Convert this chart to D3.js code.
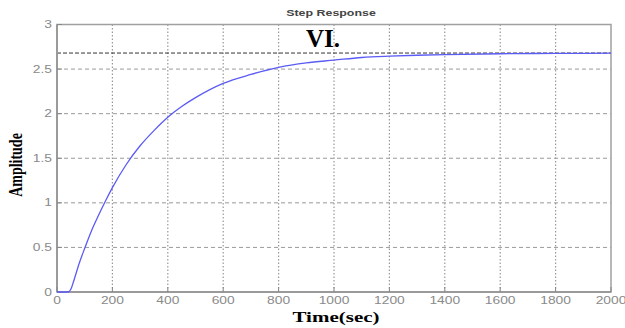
<!DOCTYPE html>
<html><head><meta charset="utf-8">
<script src="https://cdn.jsdelivr.net/npm/d3@7"></script>
<style>body{margin:0;background:#fff}svg{display:block}</style>
</head><body>
<script>
const timeSec = [0, 40, 50, 60, 80, 100, 125, 150, 175, 200, 250, 300, 350, 400, 450, 500, 600, 700, 800, 900, 1000, 1100, 1200, 1300, 1400, 1600, 1800, 2000];
const amplitude = [0, 0, 0.03, 0.12, 0.32, 0.49, 0.69, 0.86, 1.02, 1.17, 1.43, 1.64, 1.81, 1.96, 2.08, 2.18, 2.34, 2.44, 2.52, 2.57, 2.60, 2.63, 2.645, 2.655, 2.662, 2.672, 2.676, 2.678];
const finalValue = [2.68];
const xTicks = [0, 200, 400, 600, 800, 1000, 1200, 1400, 1600, 1800, 2000];
const yTicks = [0, 0.5, 1, 1.5, 2, 2.5, 3];
const yTickLabels = ["0", "0.5", "1", "1.5", "2", "2.5", "3"];

const W = 625, H = 328;
const L = 57, R = 611, T = 24.5, B = 292;
const sx = 1.38;
const svg = d3.select("body").append("svg").attr("width", W).attr("height", H);
const x = d3.scaleLinear().domain([0, 2000]).range([L, R]);
const y = d3.scaleLinear().domain([0, 3]).range([B, T]);

// grid
svg.append("g").selectAll("line").data(yTicks.slice(1, -1)).join("line")
  .attr("x1", L).attr("x2", R).attr("y1", d => y(d)).attr("y2", d => y(d))
  .attr("stroke", "#999").attr("stroke-width", 1).attr("stroke-dasharray", "4,3");
svg.append("g").selectAll("line").data(xTicks.slice(1, -1)).join("line")
  .attr("x1", d => x(d)).attr("x2", d => x(d)).attr("y1", T).attr("y2", B)
  .attr("stroke", "#999").attr("stroke-width", 1.2).attr("stroke-dasharray", "1.5,2");

// final value dashed line
svg.append("line").attr("x1", L).attr("x2", R)
  .attr("y1", y(finalValue[0])).attr("y2", y(finalValue[0]))
  .attr("stroke", "#333").attr("stroke-width", 1).attr("stroke-dasharray", "4,2");

// frame
svg.append("rect").attr("x", L).attr("y", T).attr("width", R - L).attr("height", B - T)
  .attr("fill", "none").attr("stroke", "#a0a0a0").attr("stroke-width", 1.5);
svg.append("line").attr("x1", L).attr("x2", L).attr("y1", T).attr("y2", B)
  .attr("stroke", "#9a9a9a").attr("stroke-width", 2);
svg.append("line").attr("x1", L).attr("x2", R).attr("y1", B).attr("y2", B)
  .attr("stroke", "#9a9a9a").attr("stroke-width", 2);

// tick marks
svg.append("g").selectAll("line").data(xTicks).join("line")
  .attr("x1", d => x(d)).attr("x2", d => x(d)).attr("y1", B).attr("y2", B - 5)
  .attr("stroke", "#888");
svg.append("g").selectAll("line").data(yTicks).join("line")
  .attr("x1", L).attr("x2", L + 5).attr("y1", d => y(d)).attr("y2", d => y(d))
  .attr("stroke", "#888");

// curve
const line = d3.line().x((d, i) => x(timeSec[i])).y(d => y(d)).curve(d3.curveMonotoneX);
svg.append("path").datum(amplitude).attr("d", line)
  .attr("fill", "none").attr("stroke", "#5b5bf5").attr("stroke-width", 1.3);

// tick labels
svg.append("g").selectAll("text").data(xTicks).join("text")
  .attr("transform", d => `translate(${x(d)},304) scale(${sx},1)`)
  .attr("text-anchor", "middle").attr("font-family", "Liberation Sans, Arial, sans-serif")
  .attr("font-size", 10).attr("fill", "#8a8a8a").text(d => d);
svg.append("g").selectAll("text").data(yTicks).join("text")
  .attr("transform", d => `translate(52,${y(d) + 3.5}) scale(${sx},1)`)
  .attr("text-anchor", "end").attr("font-family", "Liberation Sans, Arial, sans-serif")
  .attr("font-size", 10).attr("fill", "#8a8a8a").text((d, i) => yTickLabels[i]);

// title
svg.append("text").attr("transform", `translate(331,15.5) scale(${sx},1)`)
  .attr("text-anchor", "middle").attr("font-family", "Liberation Sans, Arial, sans-serif")
  .attr("font-weight", "bold").attr("font-size", 9).attr("fill", "#444").text("Step Response");

// VI.
svg.append("text").attr("x", 306).attr("y", 47)
  .attr("font-family", "Liberation Serif, Times New Roman, serif")
  .attr("font-weight", "bold").attr("font-size", 25).attr("fill", "#000").text("VI.");

// axis labels
svg.append("text").attr("transform", `translate(336,322) scale(1.4,1)`)
  .attr("text-anchor", "middle").attr("font-family", "Liberation Serif, Times New Roman, serif")
  .attr("font-weight", "bold").attr("font-size", 15).attr("fill", "#000").text("Time(sec)");
svg.append("text").attr("transform", `translate(22,165) rotate(-90) scale(1,1.3)`)
  .attr("text-anchor", "middle").attr("font-family", "Liberation Serif, Times New Roman, serif")
  .attr("font-weight", "bold").attr("font-size", 14).attr("fill", "#000").text("Amplitude");
</script>
</body></html>
